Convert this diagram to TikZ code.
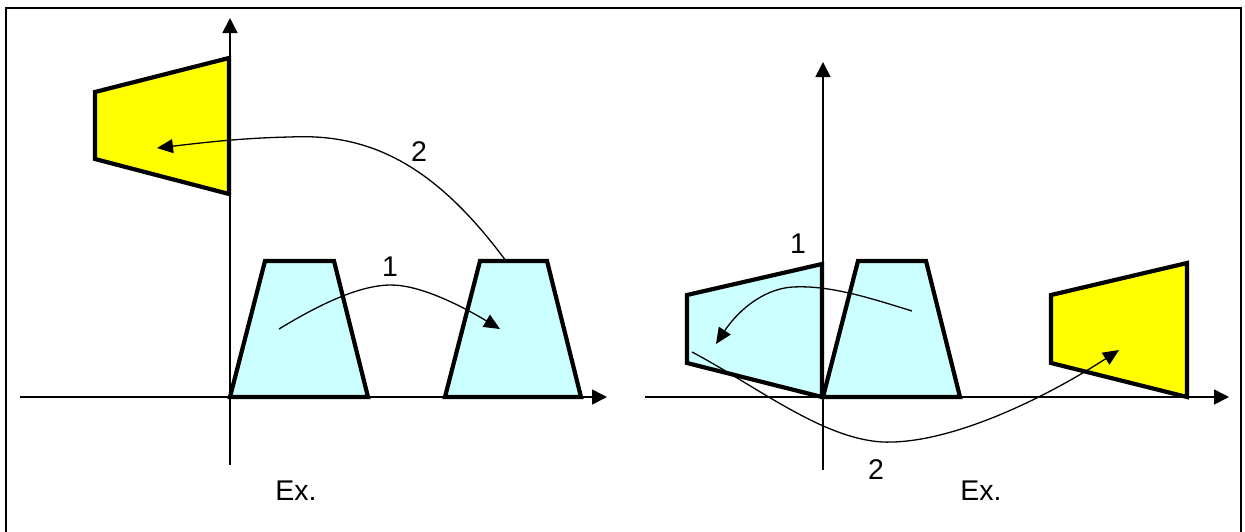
\documentclass[tikz,border=0pt]{standalone}
\usepackage{fontspec}
\setmainfont{Liberation Sans}
\usetikzlibrary{arrows.meta}
\definecolor{lcyan}{HTML}{CCFFFF}
\definecolor{lyellow}{HTML}{FFFF00}
\begin{document}
\begin{tikzpicture}[x=1pt,y=-1pt,
  axis/.style={line width=1.6pt,-{Triangle[length=15pt,width=15pt]}},
  cyanshape/.style={fill=lcyan,draw=black,line width=4.2pt,line join=miter},
  yellowshape/.style={fill=lyellow,draw=black,line width=4.2pt,line join=miter},
  move/.style={line width=1.3pt,-{Triangle[length=16pt,width=14pt]}},
  lbl/.style={inner sep=0pt,font=\fontsize{28.5}{32}\selectfont}]
\useasboundingbox (0,0) rectangle (1245,531);
% frame
\draw[line width=2.2pt] (6,540) -- (6,8) -- (1241,8) -- (1241,540);
% ---------- left panel ----------
\coordinate (lxs) at (20,397); \coordinate (lxe) at (607,397);
\coordinate (lys) at (230,465); \coordinate (lye) at (230,18);
\draw[axis] (lxs) -- (lxe);
\draw[axis] (lys) -- (lye);
\draw[yellowshape] (95,92) -- (229,58) -- (229,194) -- (95,159) -- cycle;
\draw[cyanshape] (230,397) -- (265,261) -- (334,261) -- (368,397) -- cycle;
\draw[cyanshape] (445,397) -- (480,261) -- (547,261) -- (581,397) -- cycle;
\coordinate (a1s) at (279,329); \coordinate (a1m) at (391,285); \coordinate (a1e) at (500,329);
\draw[move] (a1s) .. controls (320,304) and (360,285) .. (a1m)
  .. controls (420,285) and (460,305) .. (a1e);
\coordinate (a2s) at (506,261); \coordinate (a2m) at (290,137); \coordinate (a2e) at (157,148);
\draw[move] (a2s) .. controls (435,165) and (370,133) .. (a2m)
  .. controls (240,138) and (200,143) .. (a2e);
\node[lbl] (l1) at (390,267) {1};
\node[lbl] (l2) at (419,152) {2};
\node[lbl] (lex) at (296,491) {Ex.};
% ---------- right panel ----------
\coordinate (rxs) at (645,397); \coordinate (rxe) at (1229,397);
\coordinate (rys) at (823,470); \coordinate (rye) at (823,62);
\draw[axis] (rxs) -- (rxe);
\draw[axis] (rys) -- (rye);
\draw[cyanshape] (687,295) -- (822,264) -- (822,397) -- (687,363) -- cycle;
\draw[cyanshape] (823,397) -- (858,261) -- (926,261) -- (960,397) -- cycle;
\draw[yellowshape] (1051,295) -- (1187,263) -- (1187,397) -- (1051,363) -- cycle;
\coordinate (b1s) at (912,311); \coordinate (b1m) at (793,287); \coordinate (b1e) at (716,344);
\draw[move] (b1s) .. controls (870,298) and (830,285) .. (b1m)
  .. controls (760,289) and (735,315) .. (b1e);
\coordinate (b2s) at (692,352); \coordinate (b2m) at (893,442); \coordinate (b2e) at (1119,350);
\draw[move] (b2s) .. controls (760,388) and (830,445) .. (b2m)
  .. controls (960,440) and (1050,395) .. (b2e);
\node[lbl] (r1) at (798,244) {1};
\node[lbl] (r2) at (876,470) {2};
\node[lbl] (rex) at (981,491) {Ex.};
\end{tikzpicture}
\end{document}
